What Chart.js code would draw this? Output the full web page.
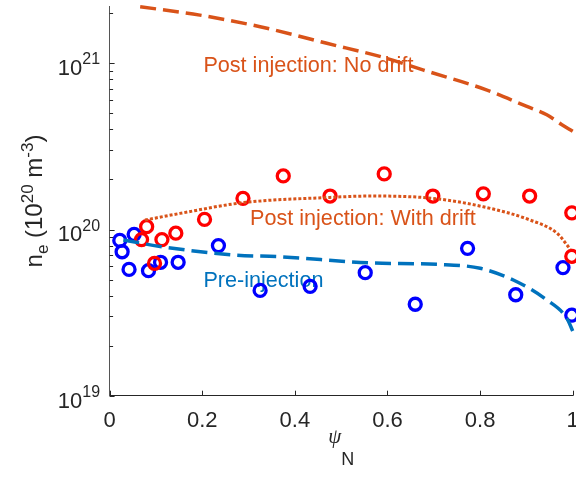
<!DOCTYPE html>
<html><head><meta charset="utf-8">
<script src="https://cdn.jsdelivr.net/npm/chart.js@4"></script>
<style>html,body{margin:0;padding:0;background:#fff;overflow:hidden}</style>
</head><body>
<canvas id="c" width="576" height="477"></canvas>
<script>
// ---------- data ----------
const preX = [0.022, 0.027, 0.053, 0.042, 0.084, 0.110, 0.148, 0.235, 0.325, 0.433, 0.552, 0.660, 0.773, 0.877, 0.979, 0.998];
const preY = [8.6e19, 7.35e19, 9.35e19, 5.75e19, 5.65e19, 6.35e19, 6.35e19, 8.0e19, 4.3e19, 4.55e19, 5.5e19, 3.55e19, 7.7e19, 4.05e19, 5.9e19, 3.05e19];

const postX = [0.069, 0.080, 0.097, 0.113, 0.143, 0.205, 0.288, 0.375, 0.476, 0.593, 0.698, 0.807, 0.907, 0.998, 0.998];
const postY = [8.7e19, 1.04e20, 6.25e19, 8.7e19, 9.5e19, 1.15e20, 1.54e20, 2.1e20, 1.59e20, 2.16e20, 1.59e20, 1.64e20, 1.59e20, 1.26e20, 6.9e19];

const noDriftX = [0.066, 0.195, 0.325, 0.469, 0.599, 0.678, 0.815, 0.901, 0.944, 0.975, 1.0];
const noDriftY = [2.19e21, 1.95e21, 1.66e21, 1.32e21, 1.07e21, 9.1e20, 6.9e20, 5.5e20, 4.9e20, 4.3e20, 3.9e20];

const withDriftX = [0.0765, 0.152, 0.2875, 0.476, 0.5625, 0.698, 0.807, 0.908, 0.966, 0.995];
const withDriftY = [1.14e20, 1.25e20, 1.45e20, 1.56e20, 1.59e20, 1.54e20, 1.37e20, 1.14e20, 9.5e19, 7.6e19];

const preLineX = [0.0296, 0.1125, 0.271, 0.368, 0.56, 0.7066, 0.8002, 0.8795, 0.944, 0.9875, 1.0];
const preLineY = [8.65e19, 7.88e19, 7.02e19, 6.86e19, 6.3e19, 6.17e19, 5.84e19, 4.85e19, 3.77e19, 2.92e19, 2.45e19];

const xTickVals = [0, 0.2, 0.4, 0.6, 0.8, 1];
const xTickLabels = ['0', '0.2', '0.4', '0.6', '0.8', '1'];
const yDecades = [19, 20, 21];
const yMinorVals = [2e19,3e19,4e19,5e19,6e19,7e19,8e19,9e19,2e20,3e20,4e20,5e20,6e20,7e20,8e20,9e20,2e21];

const labelText = ['Post injection: No drift', 'Post injection: With drift', 'Pre-injection'];
const labelX = [0.2025, 0.3033, 0.2025];
const labelY = [8.9e20, 1.064e20, 4.48e19];

// ---------- style ----------
const ORANGE = '#D95319', BLUE = '#0072BD', AX = '#262626';
const FONT = '"Liberation Sans", Arial, Helvetica, sans-serif';
const labelColor = [ORANGE, ORANGE, BLUE];

const pts = (xs, ys) => xs.map((v, i) => ({x: v, y: ys[i]}));

const decor = {
  id: 'decor',
  beforeDatasetsDraw(chart) {
    const {ctx, scales: {x, y}} = chart;
    ctx.save();
    ctx.font = '21.6px ' + FONT;
    ctx.textAlign = 'left';
    ctx.textBaseline = 'alphabetic';
    labelText.forEach((t, i) => {
      ctx.fillStyle = labelColor[i];
      ctx.fillText(t, x.getPixelForValue(labelX[i]), y.getPixelForValue(labelY[i]));
    });
    ctx.restore();
  },
  afterDraw(chart) {
    const {ctx, chartArea: a, scales: {x, y}} = chart;
    ctx.save();
    ctx.strokeStyle = AX;
    ctx.lineWidth = 1;
    ctx.beginPath();
    yMinorVals.forEach(v => {
      const py = Math.round(y.getPixelForValue(v)) + 0.5;
      ctx.moveTo(a.left, py); ctx.lineTo(a.left + 3.5, py);
    });
    yDecades.forEach(e => {
      const py = Math.round(y.getPixelForValue(Math.pow(10, e))) + 0.5;
      ctx.moveTo(a.left, py); ctx.lineTo(a.left + 5, py);
    });
    xTickVals.forEach(v => {
      const px = Math.round(x.getPixelForValue(v)) + 0.5;
      ctx.moveTo(px, a.bottom); ctx.lineTo(px, a.bottom - 5);
    });
    ctx.stroke();

    ctx.fillStyle = AX;
    ctx.textBaseline = 'alphabetic';
    // x tick labels
    ctx.font = '22px ' + FONT;
    ctx.textAlign = 'center';
    xTickVals.forEach((v, i) => ctx.fillText(xTickLabels[i], x.getPixelForValue(v), a.bottom + 31.5));

    // y tick labels 10^n
    yDecades.forEach(e => {
      const py = y.getPixelForValue(Math.pow(10, e));
      ctx.font = '16px ' + FONT;
      ctx.textAlign = 'right';
      const sup = String(e);
      const supW = ctx.measureText(sup).width;
      const right = a.left - 9.5;
      ctx.fillText(sup, right, py + 1);
      ctx.font = '22px ' + FONT;
      ctx.fillText('10', right - supW, py + 11.8);
    });

    // y title
    const segs = [
      {t: 'n', s: 24, d: 0}, {t: 'e', s: 17, d: 6}, {t: ' (10', s: 24, d: 0},
      {t: '20', s: 17, d: -9}, {t: ' m', s: 24, d: 0}, {t: '-3', s: 17, d: -9}, {t: ')', s: 24, d: 0}
    ];
    let W = 0;
    segs.forEach(sg => { ctx.font = sg.s + 'px ' + FONT; sg.w = ctx.measureText(sg.t).width; W += sg.w; });
    ctx.translate(42, (a.top + a.bottom) / 2);
    ctx.rotate(-Math.PI / 2);
    ctx.textAlign = 'left';
    let cx = -W / 2;
    segs.forEach(sg => { ctx.font = sg.s + 'px ' + FONT; ctx.fillText(sg.t, cx, sg.d); cx += sg.w; });
    ctx.setTransform(1, 0, 0, 1, 0, 0);

    // x title psi_N
    ctx.font = 'italic 21px "Liberation Serif", "DejaVu Serif", serif';
    const pw = ctx.measureText('\u03C8').width;
    ctx.font = '18px ' + FONT;
    const nw = ctx.measureText('N').width;
    const xc = (a.left + a.right) / 2;
    let sx = xc - (pw + nw) / 2;
    ctx.textAlign = 'left';
    ctx.font = 'italic 21px "Liberation Serif", "DejaVu Serif", serif';
    ctx.fillText('\u03C8', sx, 443);
    ctx.font = '18px ' + FONT;
    ctx.fillText('N', sx + pw, 465);
    ctx.restore();
  }
};

new Chart(document.getElementById('c'), {
  type: 'scatter',
  data: {
    datasets: [
      {type: 'line', label: 'No drift', data: pts(noDriftX, noDriftY), borderColor: ORANGE, borderWidth: 3.5,
       borderDash: [16, 7], pointRadius: 0, fill: false, cubicInterpolationMode: 'monotone', clip: false, order: 0},
      {type: 'line', label: 'With drift', data: pts(withDriftX, withDriftY), borderColor: ORANGE, borderWidth: 3,
       borderDash: [3, 2], pointRadius: 0, fill: false, cubicInterpolationMode: 'monotone', clip: false, order: 0},
      {type: 'line', label: 'Pre-injection fit', data: pts(preLineX, preLineY), borderColor: BLUE, borderWidth: 3.5,
       borderDash: [16, 7], pointRadius: 0, fill: false, cubicInterpolationMode: 'monotone', clip: false, order: 0},
      {label: 'Post injection data', data: pts(postX, postY), borderColor: '#FF0000', backgroundColor: 'rgba(0,0,0,0)',
       pointRadius: 6, pointBorderWidth: 3.3, pointHoverRadius: 6, clip: false, order: 1},
      {label: 'Pre-injection data', data: pts(preX, preY), borderColor: '#0000FF', backgroundColor: 'rgba(0,0,0,0)',
       pointRadius: 6, pointBorderWidth: 3.3, pointHoverRadius: 6, clip: false, order: 2}
    ]
  },
  options: {
    responsive: false,
    animation: false,
    devicePixelRatio: 1,
    layout: {autoPadding: false, padding: {left: 0, right: 3.3, top: 6.4, bottom: 0}},
    plugins: {legend: {display: false}, tooltip: {enabled: false}},
    events: [],
    scales: {
      x: {
        type: 'linear', min: 0, max: 1,
        afterBuildTicks: s => { s.ticks = xTickVals.map(v => ({value: v})); },
        afterFit: s => { s.height = 81.3; },
        grid: {display: true, drawOnChartArea: false, drawTicks: false},
        border: {display: true, color: AX, width: 1},
        ticks: {display: false}
      },
      y: {
        type: 'logarithmic', min: 1e19, max: 2.2e21,
        afterBuildTicks: s => { s.ticks = yDecades.map(e => ({value: Math.pow(10, e)})); },
        afterFit: s => { s.width = 109.6; },
        grid: {display: true, drawOnChartArea: false, drawTicks: false},
        border: {display: true, color: '#555555', width: 1},
        ticks: {display: false}
      }
    }
  },
  plugins: [decor]
});
</script>
</body></html>
